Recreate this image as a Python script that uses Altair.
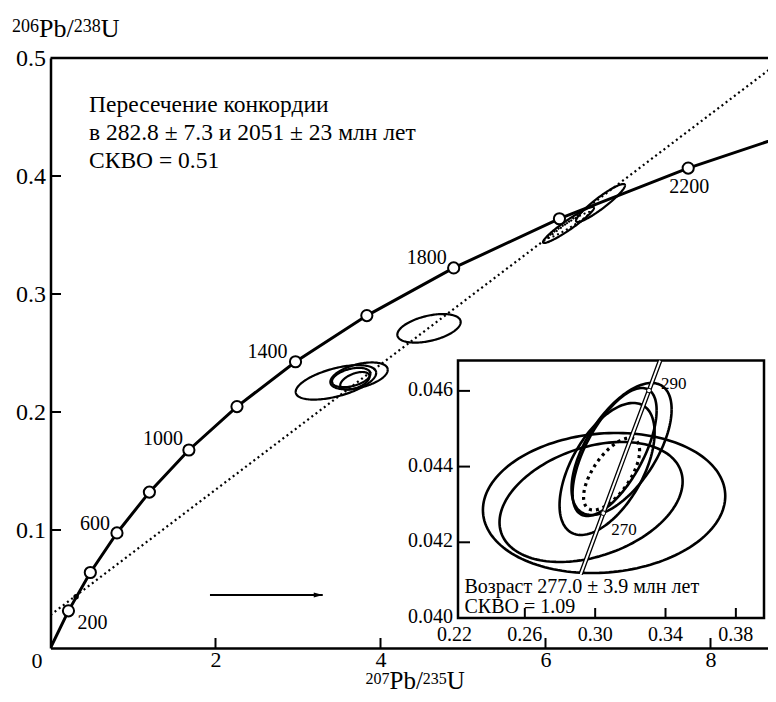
import altair as alt
import numpy as np
import pandas as pd

FONT = "Liberation Serif"

# ---------------- main concordia ----------------
conc_age = [0, 200, 400, 600, 800, 1000, 1200, 1400, 1600, 1800, 2000, 2200, 2400]
conc_x = [0.0, 0.2177, 0.4828, 0.8056, 1.1987, 1.6774, 2.2603, 2.9699, 3.8343, 4.8869, 6.1690, 7.7298, 9.6305]
conc_y = [0.0, 0.0315, 0.0640, 0.0975, 0.1321, 0.1678, 0.2046, 0.2426, 0.2817, 0.3221, 0.3638, 0.4067, 0.4511]
marker_ages = [200, 400, 600, 800, 1000, 1200, 1400, 1600, 1800, 2000, 2200]
label_ages = [200, 600, 1000, 1400, 1800, 2200]

# discordia (dotted)
disc_x = [0.0, 8.85]
disc_y = [0.0280, 0.4975]

# main error ellipses: centre, half-range in x and y, correlation
m_id = ["M1", "M2", "M3", "M4", "M5", "A", "B"]
m_cx = [3.46, 3.74, 3.645, 3.69, 4.588, 6.279, 6.667]
m_cy = [0.2251, 0.2306, 0.2292, 0.2264, 0.2709, 0.3585, 0.3771]
m_rx = [0.488, 0.348, 0.233, 0.178, 0.384, 0.309, 0.297]
m_ry = [0.0146, 0.0114, 0.0082, 0.0075, 0.01212, 0.01525, 0.0161]
m_rho = [0.55, 0.45, 0.40, 0.50, 0.44, 0.95, 0.93]
md_id = ["Ad"]
md_cx = [6.285]
md_cy = [0.3585]
md_rx = [0.255]
md_ry = [0.011]
md_rho = [0.97]

# lower-intercept point
li_x = [0.31]
li_y = [0.0435]

# arrow
arrow_x = [1.933]
arrow_x2 = [3.30]
arrow_y = [0.0449]

# ---------------- inset ----------------
i_conc_age = [260, 270, 280, 290, 295]
i_conc_x = [0.2918, 0.3046, 0.3175, 0.3306, 0.3369]
i_conc_y = [0.04116, 0.04277, 0.04439, 0.04601, 0.0468]
i_marker_ages = [270, 290]

i_id = ["E1", "E2", "T1", "T2", "T3"]
i_cx = [0.30507, 0.29767, 0.31502, 0.31104, 0.30677]
i_cy = [0.043038, 0.043065, 0.044465, 0.044386, 0.043937]
i_rx = [0.0689, 0.05206, 0.02845, 0.0239, 0.02703]
i_ry = [0.00185, 0.001585, 0.001744, 0.00169, 0.001744]
i_rho = [0.10, 0.34, 0.60, 0.65, 0.55]
id_id = ["D"]
id_cx = [0.30933]
id_cy = [0.043804]
id_rx = [0.01593]
id_ry = [0.000951]
id_rho = [0.64]

# axes values
main_x_ticks = [2, 4, 6, 8]
main_y_ticks = [0.1, 0.2, 0.3, 0.4]
main_y_labels = [0.1, 0.2, 0.3, 0.4, 0.5]
inset_x_ticks = [0.26, 0.30, 0.34, 0.38]
inset_x_labels = ["0.22", "0.26", "0.30", "0.34", "0.38"]
inset_x_label_vals = [0.22, 0.26, 0.30, 0.34, 0.38]
inset_y_ticks = [0.042, 0.044, 0.046]
inset_y_labels = ["0.040", "0.042", "0.044", "0.046"]
inset_y_label_vals = [0.040, 0.042, 0.044, 0.046]

ann_lines = ["Пересечение конкордии", "в 282.8 ± 7.3 и 2051 ± 23 млн лет", "СКВО = 0.51"]
inset_lines = ["Возраст 277.0 ± 3.9 млн лет", "СКВО = 1.09"]

# axis titles split into (text, is_superscript)
y_title = [("206", True), ("Pb/", False), ("238", True), ("U", False)]
x_title = [("207", True), ("Pb/", False), ("235", True), ("U", False)]

# ---------------- scales ----------------
X_DOM = [0, 8.697]
Y_DOM = [0, 0.5]
IX_DOM = [0.222, 0.396]
IY_DOM = [0.040, 0.0468]
W, H = 717.5, 590

mx = alt.Scale(domain=X_DOM, nice=False, zero=False)
my = alt.Scale(domain=Y_DOM, nice=False, zero=False)
ix = alt.Scale(domain=IX_DOM, range=[407.5, 713.5], nice=False, zero=False)
iy = alt.Scale(domain=IY_DOM, range=[560, 302.6], nice=False, zero=False)


def ellipse_df(ids, cx, cy, rx, ry, rho, xn, yn, n=160):
    t = np.linspace(0, 2 * np.pi, n + 1)
    frames = []
    for k in range(len(ids)):
        xs = cx[k] + rx[k] * np.cos(t)
        ys = cy[k] + ry[k] * (rho[k] * np.cos(t) + np.sqrt(1 - rho[k] ** 2) * np.sin(t))
        frames.append(pd.DataFrame({xn: xs, yn: ys, "id": ids[k], "o": np.arange(n + 1)}))
    return pd.concat(frames, ignore_index=True)


def X(field="x", **kw):
    return alt.X(f"{field}:Q", scale=mx, **kw)


def Y(field="y", **kw):
    return alt.Y(f"{field}:Q", scale=my, **kw)


def IX(field="ix"):
    return alt.X(f"{field}:Q", scale=ix, axis=None)


def IY(field="iy"):
    return alt.Y(f"{field}:Q", scale=iy, axis=None)


conc_df = pd.DataFrame({"age": conc_age, "x": conc_x, "y": conc_y})
mk_df = conc_df[conc_df.age.isin(marker_ages)]

xaxis = alt.Axis(values=main_x_ticks, format="d", tickSize=0, grid=False,
                 domainColor="black", domainWidth=2.5, labelFont=FONT, labelFontSize=22,
                 labelColor="black", labelPadding=1.5, title=None)
yaxis = alt.Axis(values=main_y_labels, format=".1f", tickSize=0, grid=False,
                 domainColor="black", domainWidth=2.5, labelFont=FONT, labelFontSize=24,
                 labelColor="black", labelPadding=5, title=None)

layers = []

# concordia line
layers.append(alt.Chart(conc_df).mark_line(color="black", strokeWidth=3, clip=True).encode(
    x=X(axis=xaxis), y=Y(axis=yaxis), order="age:Q"))

# top border
top_df = pd.DataFrame({"x": [X_DOM[0]], "x2": [X_DOM[1]], "y": [Y_DOM[1]]})
layers.append(alt.Chart(top_df).mark_rule(color="black", strokeWidth=2.5).encode(
    x=X(), x2="x2:Q", y=Y()))

# discordia
disc_df = pd.DataFrame({"x": disc_x, "y": disc_y})
layers.append(alt.Chart(disc_df).mark_line(color="black", strokeWidth=2.2, strokeDash=[2, 3.2], clip=True).encode(
    x=X(), y=Y()))

# main ellipses
layers.append(alt.Chart(ellipse_df(m_id, m_cx, m_cy, m_rx, m_ry, m_rho, "x", "y")).mark_line(
    color="black", strokeWidth=2.2).encode(x=X(), y=Y(), detail="id:N", order="o:Q"))
layers.append(alt.Chart(ellipse_df(md_id, md_cx, md_cy, md_rx, md_ry, md_rho, "x", "y")).mark_line(
    color="black", strokeWidth=2, strokeDash=[2, 3]).encode(x=X(), y=Y(), detail="id:N", order="o:Q"))

# lower-intercept dot
layers.append(alt.Chart(pd.DataFrame({"x": li_x, "y": li_y})).mark_point(
    shape="circle", filled=True, color="black", size=30, opacity=1).encode(x=X(), y=Y()))

# markers
layers.append(alt.Chart(mk_df).mark_circle(size=125, fill="white", stroke="black", strokeWidth=2, opacity=1).encode(
    x=X(), y=Y()))

# marker labels
lab_style = {200: ("left", 9, 18), 600: ("right", -7, -3), 1000: ("right", -6, -5),
             1400: ("right", -8, -4), 1800: ("right", -7, -4), 2200: ("center", 1, 25)}
for a in label_ages:
    al, dx, dy = lab_style[a]
    d = conc_df[conc_df.age == a].assign(t=str(a))
    layers.append(alt.Chart(d).mark_text(font=FONT, fontSize=20, align=al, baseline="alphabetic",
                                         dx=dx, dy=dy, color="black").encode(x=X(), y=Y(), text="t:N"))

# main ticks (inward)
layers.append(alt.Chart(pd.DataFrame({"x": main_x_ticks, "y": [0] * len(main_x_ticks)})).mark_point(
    shape="M0,0L0,-1", size=400, filled=False, stroke="black", strokeWidth=2, opacity=1).encode(x=X(), y=Y()))
layers.append(alt.Chart(pd.DataFrame({"x": [0] * len(main_y_ticks), "y": main_y_ticks})).mark_point(
    shape="M0,0L1,0", size=440, filled=False, stroke="black", strokeWidth=2, opacity=1).encode(x=X(), y=Y()))

# origin label "0"
layers.append(alt.Chart(pd.DataFrame({"x": [0], "y": [0], "t": ["0"]})).mark_text(
    font=FONT, fontSize=22, align="center", baseline="top", dx=-13.5, dy=3, color="black").encode(
    x=X(), y=Y(), text="t:N"))

# arrow
arr_df = pd.DataFrame({"x": arrow_x, "x2": arrow_x2, "y": arrow_y})
layers.append(alt.Chart(arr_df).mark_rule(color="black", strokeWidth=2).encode(x=X(), x2="x2:Q", y=Y()))
layers.append(alt.Chart(pd.DataFrame({"x": arrow_x2, "y": arrow_y})).mark_point(
    shape="M0,0L-1,-0.28L-1,0.28Z", size=324, filled=True, color="black", opacity=1).encode(x=X(), y=Y()))

# annotation
ann_df = pd.DataFrame({"t": ann_lines, "x": [0.467] * 3, "y": [0.4545, 0.4305, 0.4068]})
layers.append(alt.Chart(ann_df).mark_text(font=FONT, fontSize=23.5, align="left", baseline="alphabetic",
                                          color="black").encode(x=X(), y=Y(), text="t:N"))

# axis titles built from pieces (superscripts smaller and raised)
MAIN_FS, SUP_FS = 26, 18


def piece_width(txt, fs):
    w = {"P": 0.556, "b": 0.5, "/": 0.278, "U": 0.722}
    return sum(w.get(c, 0.5) for c in txt) * fs


def title_layers(pieces, ax, ay, dx0, dy_main, dy_sup, main_fs=MAIN_FS, sup_fs=SUP_FS):
    out = []
    dx = dx0
    for txt, sup in pieces:
        fs = sup_fs if sup else main_fs
        d = pd.DataFrame({"x": [ax], "y": [ay], "t": [txt]})
        out.append(alt.Chart(d).mark_text(font=FONT, fontSize=fs, align="left", baseline="alphabetic",
                                          dx=dx, dy=dy_sup if sup else dy_main, color="black").encode(
            x=X(), y=Y(), text="t:N"))
        dx += piece_width(txt, fs)
    return out


layers += title_layers(y_title, X_DOM[0], Y_DOM[1], -38.5, -21, -26)
layers += title_layers(x_title, X_DOM[0], Y_DOM[0], 315, 40.5, 36, 25, 16)

main = alt.layer(*layers)

# ---------------- inset layers ----------------
il = []
frame_df = pd.DataFrame({"ix": [IX_DOM[0]], "ix2": [IX_DOM[1]], "iy": [IY_DOM[0]], "iy2": [IY_DOM[1]]})
il.append(alt.Chart(frame_df).mark_rect(fill="white", stroke="black", strokeWidth=2.5).encode(
    x=IX(), x2="ix2:Q", y=IY(), y2="iy2:Q"))

il.append(alt.Chart(ellipse_df(i_id, i_cx, i_cy, i_rx, i_ry, i_rho, "ix", "iy")).mark_line(
    color="black", strokeWidth=2.6).encode(x=IX(), y=IY(), detail="id:N", order="o:Q"))
il.append(alt.Chart(ellipse_df(id_id, id_cx, id_cy, id_rx, id_ry, id_rho, "ix", "iy")).mark_line(
    color="black", strokeWidth=3.2, strokeDash=[3, 4]).encode(x=IX(), y=IY(), detail="id:N", order="o:Q"))

iconc = pd.DataFrame({"age": i_conc_age, "ix": i_conc_x, "iy": i_conc_y})
il.append(alt.Chart(iconc).mark_line(color="black", strokeWidth=4.6).encode(x=IX(), y=IY(), order="age:Q"))
il.append(alt.Chart(iconc).mark_line(color="white", strokeWidth=2).encode(x=IX(), y=IY(), order="age:Q"))
il.append(alt.Chart(iconc[iconc.age.isin(i_marker_ages)]).mark_circle(
    size=22, fill="white", stroke="black", strokeWidth=1, opacity=1).encode(x=IX(), y=IY()))
il_lab = {270: ("left", 8, 22), 290: ("left", 12, -2)}
for a in i_marker_ages:
    al, dx, dy = il_lab[a]
    d = iconc[iconc.age == a].assign(t=str(a))
    il.append(alt.Chart(d).mark_text(font=FONT, fontSize=17, align=al, baseline="alphabetic",
                                     dx=dx, dy=dy, color="black").encode(x=IX(), y=IY(), text="t:N"))

# inset ticks (inward)
il.append(alt.Chart(pd.DataFrame({"ix": inset_x_ticks, "iy": [IY_DOM[0]] * 4})).mark_point(
    shape="M0,0L0,-1", size=400, filled=False, stroke="black", strokeWidth=2, opacity=1).encode(x=IX(), y=IY()))
il.append(alt.Chart(pd.DataFrame({"ix": [IX_DOM[0]] * 3, "iy": inset_y_ticks})).mark_point(
    shape="M0,0L1,0", size=576, filled=False, stroke="black", strokeWidth=2, opacity=1).encode(x=IX(), y=IY()))

# inset tick labels
il.append(alt.Chart(pd.DataFrame({"ix": inset_x_label_vals, "iy": [IY_DOM[0]] * 5, "t": inset_x_labels})).mark_text(
    font=FONT, fontSize=20, align="center", baseline="top", dy=7, color="black").encode(x=IX(), y=IY(), text="t:N"))
il.append(alt.Chart(pd.DataFrame({"ix": [IX_DOM[0]] * 4, "iy": inset_y_label_vals, "t": inset_y_labels})).mark_text(
    font=FONT, fontSize=20, align="right", baseline="middle", dx=-5, dy=-1, color="black").encode(x=IX(), y=IY(), text="t:N"))

# inset text
it_df = pd.DataFrame({"t": inset_lines, "ix": [0.2257, 0.2257], "iy": [0.04067, 0.04013]})
il.append(alt.Chart(it_df).mark_text(font=FONT, fontSize=20, align="left", baseline="alphabetic",
                                     color="black").encode(x=IX(), y=IY(), text="t:N"))

inset = alt.layer(*il)

chart = alt.layer(main, inset).resolve_scale(x="independent", y="independent").properties(
    width=W, height=H,
    padding={"left": 42.5, "top": 50, "right": 0, "bottom": 46},
    autosize=alt.AutoSizeParams(type="none"),
    background="white",
).configure_view(stroke=None)

chart.save("out.html", embed_options={"renderer": "svg", "actions": False})
